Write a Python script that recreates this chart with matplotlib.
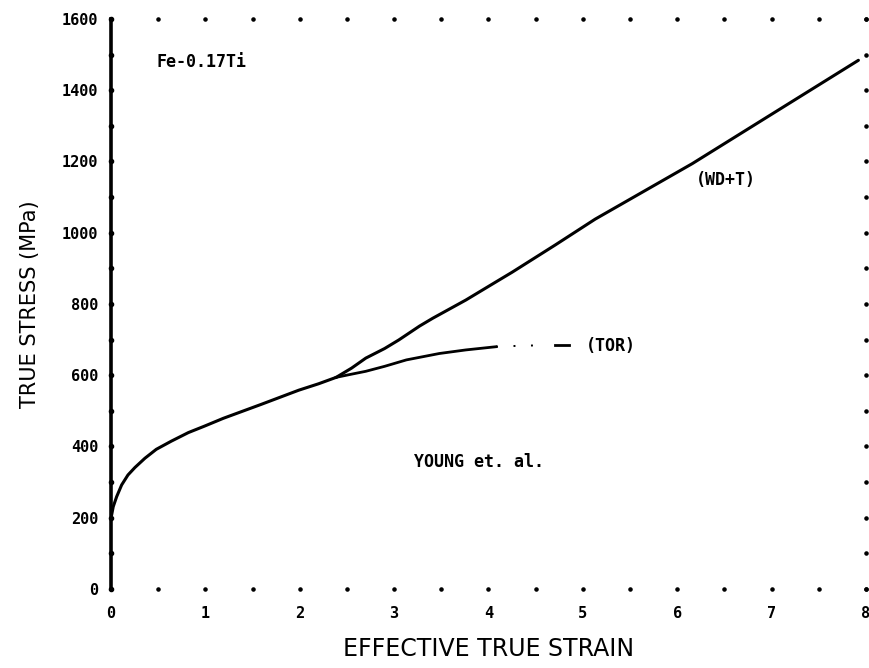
import numpy as np
import matplotlib
matplotlib.use("Agg")
import matplotlib.pyplot as plt

# common part of both curves (strain, MPa)
common_x = [0, 0.024, 0.06, 0.113, 0.18, 0.254, 0.36, 0.48, 0.64, 0.82, 0.99,
            1.19, 1.59, 1.99, 2.20, 2.386]
common_y = [198, 231, 259, 292, 320, 341, 367, 392, 415, 439, 457,
            479, 518, 558, 576, 594]

# (WD+T) branch
wdt_x = [2.386, 2.55, 2.70, 2.90, 3.05, 3.27, 3.41, 3.76, 4.08, 4.25, 4.71,
         5.13, 6.16, 7.07, 7.92]
wdt_y = [594, 620, 648, 675, 699, 738, 760, 811, 862, 889, 966,
         1038, 1194, 1344, 1484]

# (TOR) branch: solid part, dotted stretch, last dash
tor_x = [2.386, 2.55, 2.70, 2.90, 3.13, 3.48, 3.76, 4.08]
tor_y = [594, 603, 611, 625, 643, 661, 671, 680]
tor_dot_x = [4.08, 4.36, 4.60]
tor_dot_y = [680, 683, 684]
tor_dash_x = [4.71, 4.85]
tor_dash_y = [685, 685]

x_ticks = [0, 1, 2, 3, 4, 5, 6, 7, 8]
y_ticks = [0, 200, 400, 600, 800, 1000, 1200, 1400, 1600]

fig = plt.figure(figsize=(8.69, 6.68), dpi=100)
ax = fig.add_axes([0.1277, 0.1183, 0.8688, 0.8533])
ax.set_xlim(0, 8)
ax.set_ylim(0, 1600)

for s in ['top', 'bottom', 'right']:
    ax.spines[s].set_visible(False)
ax.spines['left'].set_linewidth(2.6)

# dotted frame: marks every 0.5 strain / 100 MPa
xd = np.arange(0, 8.01, 0.5)
yd = np.arange(0, 1601, 100)
ax.plot(xd, np.zeros_like(xd), 'k.', ms=4.5, clip_on=False)
ax.plot(xd, np.full_like(xd, 1600), 'k.', ms=4.5, clip_on=False)
ax.plot(np.full_like(yd, 8.0), yd, 'k.', ms=4.5, clip_on=False)
ax.plot(np.zeros_like(yd), yd, 'k.', ms=6, clip_on=False)

ax.plot(common_x, common_y, 'k-', lw=2.2, solid_capstyle='round')
ax.plot(wdt_x, wdt_y, 'k-', lw=2.2, solid_capstyle='round')
ax.plot(tor_x, tor_y, 'k-', lw=2.0)
ax.plot(tor_dot_x, tor_dot_y, 'k-', lw=1.4, dashes=(1, 8))
ax.plot(tor_dash_x, tor_dash_y, 'k-', lw=2.0)

ax.set_xticks(x_ticks)
ax.set_yticks(y_ticks)
ax.tick_params(length=0)
ax.tick_params(axis='x', pad=12)
ax.tick_params(axis='y', pad=9)
for lab in ax.get_xticklabels() + ax.get_yticklabels():
    lab.set_fontfamily('DejaVu Sans Mono')
    lab.set_fontweight('bold')
    lab.set_fontsize(11)

ax.set_xlabel('EFFECTIVE TRUE STRAIN', fontsize=17, labelpad=12)
ax.set_ylabel('TRUE STRESS (MPa)', fontsize=15, labelpad=16)

txt = dict(fontfamily='DejaVu Sans Mono', fontweight='bold', fontsize=12, va='center')
ax.text(0.486, 1479, 'Fe-0.17Ti', **txt)
ax.text(6.20, 1148, '(WD+T)', **txt)
ax.text(5.03, 682, '(TOR)', **txt)
ax.text(3.21, 356, 'YOUNG et. al.', **txt)

fig.savefig('out.png', dpi=100)
